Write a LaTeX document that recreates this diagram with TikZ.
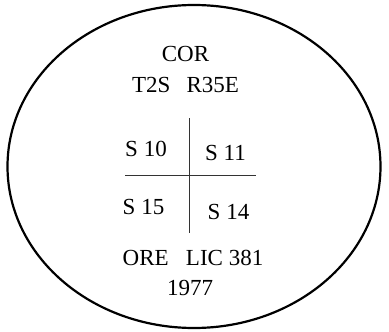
\documentclass[tikz,border=0pt]{standalone}
\usepackage{fontspec}
\setmainfont{Liberation Serif}
\begin{document}
\begin{tikzpicture}[x=1pt,y=-1pt,
  lbl/.style={font=\fontsize{23}{26}\selectfont, inner sep=0pt, text=black},
  rule/.style={draw=black!80, line width=0.9pt}]
\useasboundingbox (0,0) rectangle (389,332);
\draw[line width=2.2pt] (194,166.5) ellipse [x radius=186.5, y radius=161.5];
\node[lbl] (cor) at (185.5,54) {COR};
\node[lbl] (twp) at (185.5,85) {T2S\hspace{0.7em}R35E};
\node[lbl] (s10) at (146,149) {S 10};
\node[lbl] (s11) at (225.5,153) {S 11};
\node[lbl] (s15) at (143.5,207) {S 15};
\node[lbl] (s14) at (228.5,212) {S 14};
\node[lbl] (lic) at (193,257.5) {ORE\hspace{0.75em}LIC 381};
\node[lbl] (yr) at (190,288) {1977};
\coordinate (vt) at (189.7,118);
\coordinate (vb) at (189.7,233);
\coordinate (hl) at (125,175);
\coordinate (hr) at (256,175);
\draw[rule] (vt) -- (vb);
\draw[rule] (hl) -- (hr);
\end{tikzpicture}
\end{document}
